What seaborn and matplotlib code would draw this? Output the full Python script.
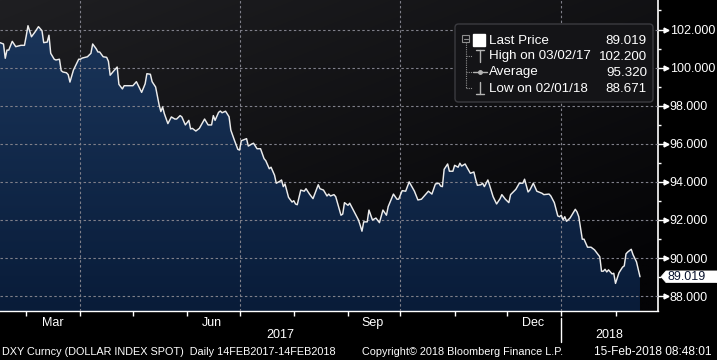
import numpy as np
import pandas as pd
import matplotlib
matplotlib.use("Agg")
import matplotlib.pyplot as plt
import matplotlib.dates as mdates
import matplotlib.transforms as mtransforms
from matplotlib.patches import FancyBboxPatch, Rectangle, Polygon
from matplotlib.lines import Line2D
import seaborn as sns

# ---------------- data ----------------
START = "2017-02-14"
days = [0, 2, 3, 4, 5, 7, 8, 9, 12, 14, 15, 16, 18, 20, 22, 24, 25, 27, 28, 29,
        31, 32, 34, 35, 36, 38, 39, 40, 42, 45, 46, 47, 50, 52, 53, 55, 56, 57, 59, 61,
        62, 63, 65, 67, 68, 70, 71, 76, 78, 81, 83, 84, 86, 87, 89, 91, 92, 93, 94, 96,
        98, 100, 101, 103, 104, 106, 108, 109, 110, 112, 114, 117, 119, 121, 122, 123, 125, 126, 127, 129,
        130, 131, 132, 134, 136, 137, 138, 141, 142, 144, 145, 147, 149, 151, 152, 154, 155, 157, 158, 160,
        161, 162, 163, 165, 167, 168, 169, 170, 172, 174, 175, 177, 179, 182, 183, 185, 187, 188, 189, 191,
        192, 195, 196, 197, 199, 200, 203, 205, 206, 207, 208, 210, 211, 213, 215, 217, 219, 221, 222, 225,
        227, 228, 230, 232, 234, 237, 239, 241, 245, 247, 249, 251, 252, 253, 254, 256, 257, 259, 260, 262,
        263, 264, 266, 267, 269, 271, 272, 273, 275, 276, 277, 279, 280, 282, 284, 286, 287, 289, 291, 292,
        295, 297, 299, 300, 302, 303, 305, 307, 310, 311, 314, 315, 317, 319, 320, 321, 322, 323, 324, 326,
        329, 330, 331, 333, 334, 336, 337, 338, 340, 343, 344, 345, 346, 347, 348, 350, 351, 352, 354, 356,
        357, 358, 359, 361, 362, 364, 366]
dxy = [101.31, 101.24, 100.49, 100.92, 100.92, 101.38, 101.24, 101.10, 101.17, 101.17, 101.66, 102.20, 101.62, 101.87, 102.15, 101.94, 101.31, 101.34, 101.70, 100.75,
       100.44, 100.40, 100.44, 99.84, 99.77, 99.73, 99.63, 99.24, 99.87, 100.44, 100.44, 100.50, 100.57, 100.75, 101.24, 100.99, 100.82, 100.82, 100.57, 100.54,
       100.33, 99.60, 99.82, 100.03, 99.12, 98.88, 99.05, 99.05, 99.26, 98.70, 99.15, 99.68, 99.65, 99.26, 98.98, 98.04, 97.69, 97.93, 97.58, 97.06,
       97.41, 97.30, 97.30, 97.48, 97.41, 96.99, 97.23, 96.78, 96.81, 96.67, 96.81, 97.30, 96.99, 96.99, 97.48, 97.23, 97.65, 97.72, 97.63, 97.71,
       97.56, 97.42, 96.72, 96.20, 95.71, 95.67, 96.16, 96.27, 95.88, 95.99, 96.03, 95.74, 95.74, 95.22, 95.11, 94.69, 94.77, 94.35, 93.93, 94.03,
       94.10, 93.75, 93.89, 93.19, 92.94, 93.01, 92.84, 92.80, 93.57, 93.51, 93.64, 93.36, 93.12, 93.85, 93.64, 93.57, 93.26, 93.36, 93.26, 93.33,
       93.22, 92.25, 92.31, 92.91, 92.77, 92.88, 92.35, 92.00, 91.72, 91.41, 91.90, 91.90, 92.52, 92.00, 92.10, 91.86, 92.52, 92.25, 92.70, 93.36,
       93.09, 93.09, 93.54, 93.51, 94.00, 93.51, 93.05, 93.09, 93.51, 93.36, 93.89, 93.93, 93.78, 93.75, 94.66, 94.94, 94.56, 94.56, 94.87, 94.77,
       94.98, 94.83, 94.94, 94.77, 94.45, 94.52, 94.14, 93.82, 93.85, 93.93, 93.75, 94.10, 93.82, 93.22, 92.84, 93.12, 93.33, 93.09, 92.91, 93.33,
       93.61, 93.93, 93.93, 94.14, 93.47, 93.57, 93.93, 93.51, 93.40, 93.33, 93.36, 93.26, 92.91, 92.21, 92.17, 92.25, 92.00, 92.17, 91.93, 92.10,
       92.56, 92.42, 92.17, 90.99, 90.99, 90.57, 90.57, 90.57, 90.43, 90.07, 89.31, 89.31, 89.41, 89.27, 89.38, 89.17, 89.20, 88.67, 89.23, 89.52,
       89.59, 90.22, 90.32, 90.46, 90.18, 89.80, 89.019]

y_major = [88, 90, 92, 94, 96, 98, 100, 102]
y_minor = [89, 91, 93, 95, 97, 99, 101, 103]
month_label_dates = ["2017-03-16", "2017-06-15", "2017-09-15", "2017-12-16"]
month_labels = ["Mar", "Jun", "Sep", "Dec"]
grid_dates = ["2017-04-01", "2017-07-01", "2017-10-01", "2018-01-01"]
year_break = "2018-01-01"
year_labels = ["2017", "2018"]
legend_labels = ["Last Price", "High on 03/02/17", "Average", "Low on 02/01/18"]
legend_values = ["89.019", "102.200", "95.320", "88.671"]
last_price = 89.019
footer_left = "DXY Curncy (DOLLAR INDEX SPOT)  Daily 14FEB2017-14FEB2018"
footer_mid = "Copyright\u00a9 2018 Bloomberg Finance L.P."
footer_right = "15-Feb-2018 08:48:01"

# ---------------- style ----------------
sns.set_theme(style="dark", rc={"axes.facecolor": "black", "figure.facecolor": "black"})
plt.rcParams['font.family'] = ['Liberation Sans', 'DejaVu Sans']

W, H = 717, 360
fig = plt.figure(figsize=(W / 100, H / 100), dpi=100, facecolor='black')
AX_R, AX_B = 658, 311
ax = fig.add_axes([0, 1 - AX_B / H, AX_R / W, AX_B / H])
ax.set_facecolor('black')
ax.grid(False)

dates = pd.Timestamp(START) + pd.to_timedelta(days, unit="D")
x = mdates.date2num(dates)
df = pd.DataFrame({"x": x, "dxy": dxy})

xmin = mdates.date2num(pd.Timestamp(START))
xmax = xmin + 376.3
ymin, ymax = 87.22, 103.55

# background gradient (lighter top-left to black bottom-right)
gh, gw = 200, 200
yy, xx = np.mgrid[0:1:gh * 1j, 0:1:gw * 1j]
t = np.clip(0.6 * yy + 0.5 * xx, 0, 1)[..., None]
c0 = np.array([0x1f, 0x1f, 0x22]) / 255
c1 = np.array([0x04, 0x04, 0x06]) / 255
bg = c0 * (1 - t) + c1 * t
ax.imshow(bg, extent=[xmin, xmax, ymin, ymax], aspect='auto', origin='upper',
          zorder=0, interpolation='bilinear')

# area fill with vertical navy gradient
poly = ax.fill_between(df["x"], df["dxy"], ymin, facecolor='none', edgecolor='none', zorder=1)
tv = np.linspace(0, 1, 256)[:, None, None]
f0 = np.array([0x1a, 0x35, 0x5a]) / 255
f1 = np.array([0x09, 0x1c, 0x39]) / 255
fill_img = f0 * (1 - tv) + f1 * tv
fill_img = np.repeat(fill_img, 2, axis=1)
im = ax.imshow(fill_img, extent=[xmin, xmax, ymin, 102.5], aspect='auto', origin='upper',
               zorder=2, interpolation='bilinear')
im.set_clip_path(poly.get_paths()[0], transform=ax.transData)

# dashed gridlines
for v in y_major:
    ax.axhline(v, color='#80808a', lw=0.8, ls=(0, (2.2, 2.2)), zorder=3)
for d in grid_dates:
    ax.axvline(mdates.date2num(pd.Timestamp(d)), color='#80808a', lw=0.8, ls=(0, (2.2, 2.2)), zorder=3)

# price line
sns.lineplot(data=df, x="x", y="dxy", ax=ax, color='#ececec', linewidth=1.05, zorder=5)

ax.set_xlim(xmin, xmax)
ax.set_ylim(ymin, ymax)
ax.set_xlabel("")
ax.set_ylabel("")

# spines
for s in ['left', 'top']:
    ax.spines[s].set_visible(False)
ax.spines['right'].set_color('white')
ax.spines['right'].set_linewidth(1.2)
ax.spines['bottom'].set_color('white')
ax.spines['bottom'].set_linewidth(1.0)

# y axis on the right
ax.yaxis.tick_right()
ax.set_yticks(y_major)
ax.set_yticklabels([f"{v:.3f}" for v in y_major])
ax.set_yticks(y_minor, minor=True)
ax.tick_params(axis='y', which='major', right=True, left=False, length=7, width=1,
               colors='white', labelsize=9, pad=1.5)
ax.tick_params(axis='y', which='minor', right=True, left=False, length=2.5, width=1, colors='white')
blend_y = mtransforms.blended_transform_factory(ax.transAxes, ax.transData)
ax.plot(np.full(len(y_major), 1 + 8 / AX_R), y_major, marker='>', ms=3.5, color='white',
        ls='none', transform=blend_y, clip_on=False, zorder=6)

# x axis: month-start ticks, mid-month labels
month_starts = pd.date_range("2017-03-01", "2018-02-01", freq="MS")
ax.set_xticks(mdates.date2num(month_starts))
ax.set_xticklabels([""] * len(month_starts))
ax.tick_params(axis='x', which='major', bottom=True, length=3.5, width=1, color='white')
ax.set_xticks(mdates.date2num(pd.to_datetime(month_label_dates)), minor=True)
ax.set_xticklabels(month_labels, minor=True)
ax.tick_params(axis='x', which='minor', bottom=True, length=0, pad=4, labelsize=9, labelcolor='white')

blend_x = mtransforms.blended_transform_factory(ax.transData, ax.transAxes)
jan1 = mdates.date2num(pd.Timestamp(year_break))
ax.text((xmin + jan1) / 2, -0.078, year_labels[0], transform=blend_x, ha='center', va='center',
        color='white', fontsize=9)
ax.text((jan1 + xmax) / 2, -0.078, year_labels[1], transform=blend_x, ha='center', va='center',
        color='white', fontsize=9)
ax.plot([jan1, jan1], [-0.022, -0.10], color='white', lw=1, transform=blend_x, clip_on=False)

# footer
fy_footer = 1 - 352 / H
fig.text(2 / W, fy_footer, footer_left, color='white', fontsize=7.8, ha='left', va='center')
fig.text(362 / W, fy_footer, footer_mid, color='white', fontsize=7.8, ha='left', va='center')
fig.text(712 / W, fy_footer, footer_right, color='white', fontsize=8.6, ha='right', va='center')

# last price tag
yc = ax.transData.transform((xmin, last_price))[1]
tag = Polygon([(661 / W, yc / H), (666 / W, (yc + 5.8) / H), (717 / W, (yc + 5.8) / H),
               (717 / W, (yc - 5.8) / H), (666 / W, (yc - 5.8) / H)],
              closed=True, transform=fig.transFigure, facecolor='white', edgecolor='white', lw=0.5)
fig.patches.append(tag)
fig.text(668 / W, yc / H, f"{last_price:.3f}", color='#0b1530', fontsize=9, ha='left', va='center')

# legend box
def fx(px):
    return px / W


def fy(py):
    return 1 - py / H


box = FancyBboxPatch((fx(455), fy(102)), fx(653) - fx(455), fy(24) - fy(102),
                     boxstyle="round,pad=0,rounding_size=0.005", mutation_aspect=W / H,
                     transform=fig.transFigure, facecolor='#141417', edgecolor='#3b3b40', lw=1)
fig.patches.append(box)
gray = '#8e8e8e'
fig.patches.append(Rectangle((fx(462), fy(42)), 7 / W, 7 / H, fill=False, edgecolor=gray, lw=0.8,
                             transform=fig.transFigure))
fig.add_artist(Line2D([fx(463.5), fx(467.5)], [fy(38.5)] * 2, color=gray, lw=0.8, transform=fig.transFigure))
fig.add_artist(Line2D([fx(465.5)] * 2, [fy(42), fy(88)], color=gray, lw=0.8, ls=(0, (1, 1)),
                      transform=fig.transFigure))
for yrow in [56, 72, 88]:
    fig.add_artist(Line2D([fx(465.5), fx(472)], [fy(yrow)] * 2, color=gray, lw=0.8, ls=(0, (1, 1)),
                          transform=fig.transFigure))
fig.patches.append(Rectangle((fx(473), fy(46)), 12 / W, 12 / H, facecolor='white', edgecolor='white',
                             transform=fig.transFigure))
icon = '#b4b4b4'
fig.add_artist(Line2D([fx(476), fx(484)], [fy(50)] * 2, color=icon, lw=1, transform=fig.transFigure))
fig.add_artist(Line2D([fx(480)] * 2, [fy(50), fy(62)], color=icon, lw=1, transform=fig.transFigure))
fig.add_artist(Line2D([fx(473), fx(487)], [fy(72)] * 2, color=icon, lw=1, transform=fig.transFigure))
fig.add_artist(Line2D([fx(480)], [fy(72)], color=icon, marker='o', ms=2.5, transform=fig.transFigure))
fig.add_artist(Line2D([fx(480)] * 2, [fy(82), fy(94)], color=icon, lw=1, transform=fig.transFigure))
fig.add_artist(Line2D([fx(476), fx(484)], [fy(94)] * 2, color=icon, lw=1, transform=fig.transFigure))

row_y = [40.5, 56.5, 72.5, 88.5]
for lab, val, ry in zip(legend_labels, legend_values, row_y):
    fig.text(fx(489), fy(ry), lab, color='white', fontsize=9.6, ha='left', va='center')
    fig.text(fx(647), fy(ry), val, color='white', fontsize=9.6, ha='right', va='center')

fig.savefig("out.png", dpi=100, facecolor='black')
